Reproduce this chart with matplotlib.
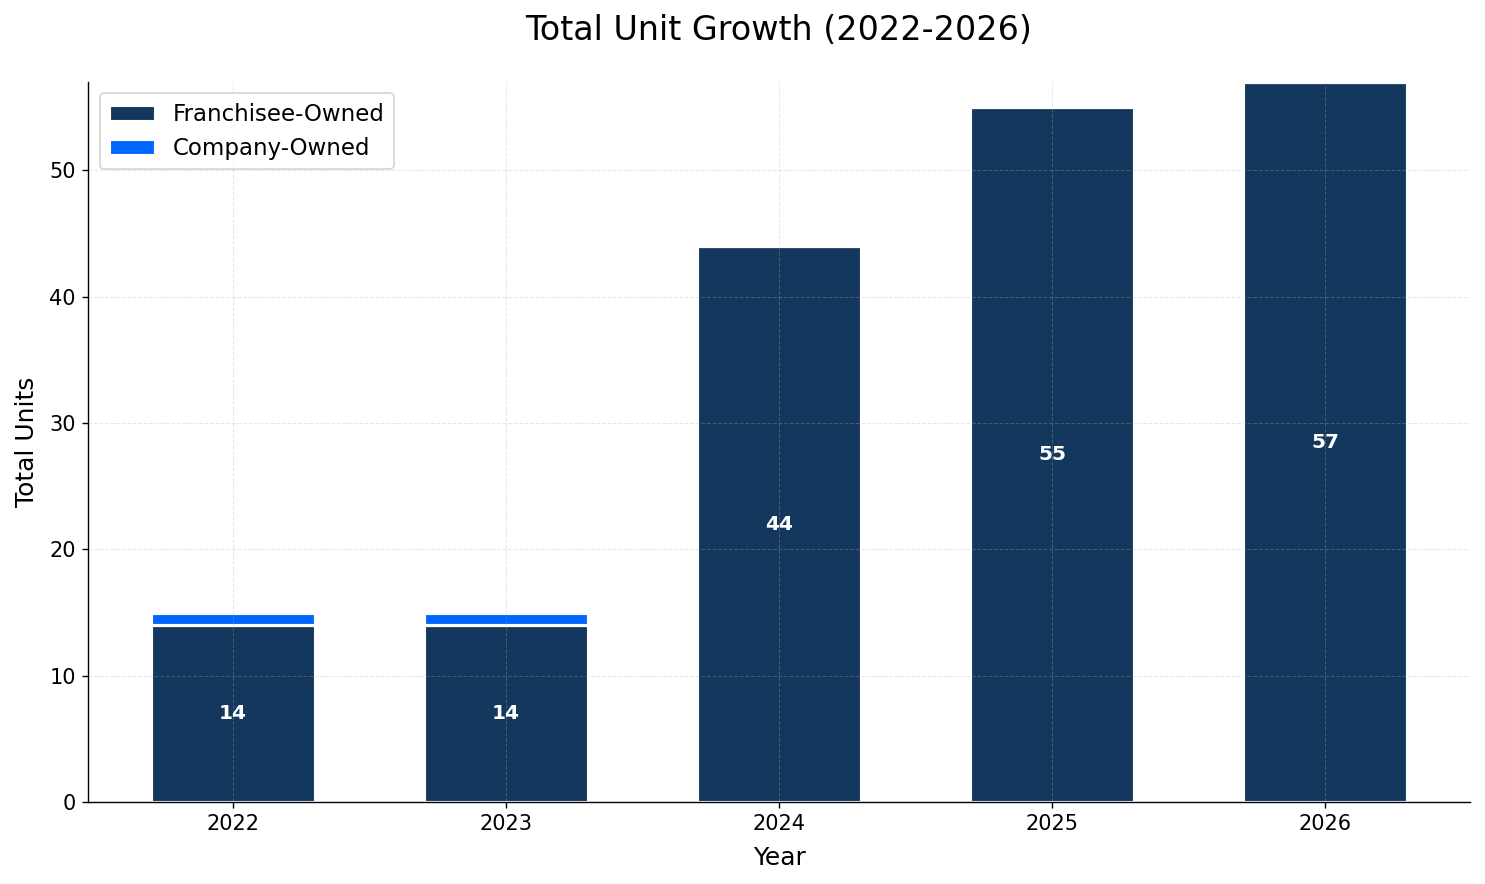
import matplotlib
matplotlib.use("Agg")
import matplotlib.pyplot as plt
import numpy as np

years = ["2022", "2023", "2024", "2025", "2026"]
franchisee = [14, 14, 44, 55, 57]
company = [1, 1, 0, 0, 0]

DPI = 125
fig, ax = plt.subplots(figsize=(1485 / DPI, 884 / DPI), dpi=DPI)
fig.subplots_adjust(left=0.0593, right=0.9899, top=0.9072, bottom=0.0928)

x = np.arange(len(years))
ax.bar(x, franchisee, width=0.6, color="#14375e", edgecolor="white", linewidth=1.8, label="Franchisee-Owned")
ax.bar(x, company, width=0.6, bottom=franchisee, color="#0066ff", edgecolor="white", linewidth=1.8, label="Company-Owned")

for xi, v in zip(x, franchisee):
    ax.text(xi, v / 2, str(v), ha="center", va="center", color="white", fontsize=11.6, fontweight="bold")

ax.set_xticks(x)
ax.set_xticklabels(years, fontsize=12)
ax.tick_params(axis="y", labelsize=12)
ax.set_ylim(0, 57)
ax.set_xlabel("Year", fontsize=14.4, labelpad=7)
ax.set_ylabel("Total Units", fontsize=14.4, labelpad=6)
ax.set_title("Total Unit Growth (2022-2026)", fontsize=19.2, pad=24)
ax.grid(True, linestyle="--", alpha=0.3, linewidth=0.6)
ax.set_axisbelow(False)
ax.spines["top"].set_visible(False)
ax.spines["right"].set_visible(False)
ax.legend(loc="upper left", fontsize=13.2)

fig.savefig("out.png", dpi=DPI)
